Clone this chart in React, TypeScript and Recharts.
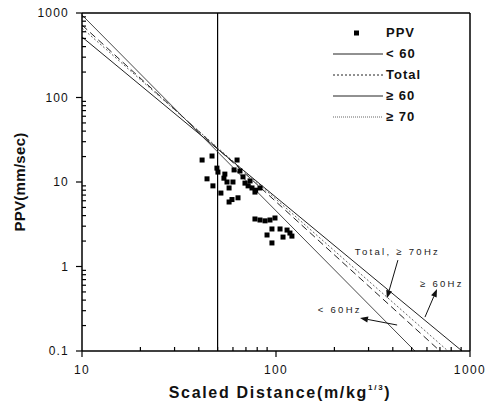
import React from "react";
import {
  ComposedChart,
  Line,
  Scatter,
  XAxis,
  YAxis,
  ReferenceLine,
  ReferenceDot,
  Legend,
  Label,
} from "recharts";

// measured PPV records (scaled distance, ppv)
const ppvPoints = [
  { x: 41.6, y: 18.2 }, { x: 46.8, y: 20.3 }, { x: 49.6, y: 14.6 }, { x: 50.2, y: 13.1 },
  { x: 63.0, y: 18.2 }, { x: 60.8, y: 13.9 }, { x: 65.2, y: 13.5 }, { x: 44.1, y: 10.9 },
  { x: 47.3, y: 9.0 }, { x: 53.9, y: 11.1 }, { x: 55.9, y: 10.0 }, { x: 60.0, y: 10.0 },
  { x: 67.6, y: 11.5 }, { x: 69.2, y: 9.7 }, { x: 57.3, y: 8.5 }, { x: 71.8, y: 9.0 },
  { x: 75.2, y: 8.5 }, { x: 77.9, y: 7.6 }, { x: 82.7, y: 8.5 }, { x: 52.0, y: 7.4 },
  { x: 57.3, y: 5.8 }, { x: 63.7, y: 6.5 }, { x: 59.3, y: 6.2 }, { x: 54.5, y: 12.4 },
  { x: 73.5, y: 10.3 }, { x: 78.5, y: 8.0 },
  { x: 77.9, y: 3.65 }, { x: 82.7, y: 3.55 }, { x: 87.8, y: 3.47 }, { x: 93.1, y: 3.55 },
  { x: 98.8, y: 3.75 }, { x: 95.3, y: 2.78 }, { x: 104.9, y: 2.78 }, { x: 114, y: 2.7 },
  { x: 118, y: 2.49 }, { x: 89.9, y: 2.36 }, { x: 108.7, y: 2.23 }, { x: 120.8, y: 2.29 },
  { x: 95.3, y: 1.9 },
];

// regression lines (end points)
const lineLt60 = [{ x: 10, y: 947 }, { x: 520, y: 0.1 }];
const lineTotal = [{ x: 10, y: 720 }, { x: 700, y: 0.1 }];
const lineGe70 = [{ x: 10, y: 664 }, { x: 770, y: 0.1 }];
const lineGe60 = [{ x: 10, y: 520 }, { x: 910, y: 0.1 }];

const xTicks = [10, 20, 30, 40, 50, 60, 70, 80, 90, 100, 200, 300, 400, 500, 600, 700, 800, 900, 1000];
const yTicks = [
  0.1, 0.2, 0.3, 0.4, 0.5, 0.6, 0.7, 0.8, 0.9,
  1, 2, 3, 4, 5, 6, 7, 8, 9,
  10, 20, 30, 40, 50, 60, 70, 80, 90,
  100, 200, 300, 400, 500, 600, 700, 800, 900, 1000,
];
const majorTicks = [0.1, 1, 10, 100, 1000];

const legendItems = [
  { name: "PPV", kind: "square", dash: "" },
  { name: "< 60", kind: "line", dash: "" },
  { name: "Total", kind: "line", dash: "2 2" },
  { name: "≥ 60", kind: "line", dash: "" },
  { name: "≥ 70", kind: "line", dash: "1 1" },
];

const notes = [
  { x: 255, y: 1.5, text: "Total,  ≥ 70Hz" },
  { x: 552, y: 0.62, text: "≥ 60Hz" },
  { x: 164, y: 0.31, text: "< 60Hz" },
];

const arrows = [
  [{ x: 425, y: 1.19 }, { x: 373, y: 0.42 }],
  [{ x: 586, y: 0.252 }, { x: 676, y: 0.542 }],
  [{ x: 421, y: 0.203 }, { x: 271, y: 0.246 }],
];

const FONT = "'Liberation Sans', Arial, sans-serif";

const XTick = (props: any) => {
  const { x, y, payload } = props;
  const major = majorTicks.includes(payload.value);
  return (
    <g>
      <line x1={x} x2={x} y1={y} y2={major ? y + 6 : y - 4} stroke="#000" strokeWidth={1.2} />
      {major && (
        <text x={x} y={y + 23} textAnchor="middle" fontSize={12} fontFamily={FONT} letterSpacing={1.4} fill="#111">
          {payload.value}
        </text>
      )}
    </g>
  );
};

const YTick = (props: any) => {
  const { x, y, payload } = props;
  const major = majorTicks.includes(payload.value);
  return (
    <g>
      <line x1={major ? x - 6 : x} x2={major ? x : x + 4} y1={y} y2={y} stroke="#000" strokeWidth={1.2} />
      {major && (
        <text x={x - 13} y={y} dy="0.35em" textAnchor="end" fontSize={12} fontFamily={FONT} letterSpacing={1.2} fill="#111">
          {payload.value}
        </text>
      )}
    </g>
  );
};

const SquareDot = (p: any) => (
  <rect x={p.cx - 2.5} y={p.cy - 2.5} width={5} height={5} fill="#000" />
);

const Arrow = (p: any) => {
  const { x1, y1, x2, y2 } = p;
  const a = Math.atan2(y2 - y1, x2 - x1);
  const L = 8;
  const W = 3;
  const bx = x2 - L * Math.cos(a);
  const by = y2 - L * Math.sin(a);
  const pts = `${x2},${y2} ${bx + W * Math.sin(a)},${by - W * Math.cos(a)} ${bx - W * Math.sin(a)},${by + W * Math.cos(a)}`;
  return (
    <g>
      <line x1={x1} y1={y1} x2={bx} y2={by} stroke="#111" strokeWidth={1} />
      <polygon points={pts} fill="#111" />
    </g>
  );
};

const LegendBox = () => (
  <div style={{ fontFamily: FONT, fontWeight: "bold", fontSize: 13, color: "#111" }}>
    {legendItems.map((it) => (
      <div key={it.name} style={{ display: "flex", alignItems: "center", height: 21 }}>
        <svg width={53} height={10}>
          {it.kind === "square" ? (
            <rect x={21} y={2.5} width={5} height={5} fill="#000" />
          ) : (
            <line x1={0} x2={50} y1={5} y2={5} stroke={it.dash === "1 1" ? "#666" : "#222"} strokeWidth={1} strokeDasharray={it.dash || undefined} />
          )}
        </svg>
        <span style={{ letterSpacing: 1 }}>{it.name}</span>
      </div>
    ))}
  </div>
);

export default function App() {
  return (
    <div style={{ position: "absolute", left: 0, top: 0, width: 488, height: 413, background: "#fff" }}>
      <ComposedChart width={488} height={413} margin={{ top: 13, right: 18, left: 22, bottom: 0 }}>
        <XAxis
          type="number"
          dataKey="x"
          scale="log"
          domain={[10, 1000]}
          allowDataOverflow
          ticks={xTicks}
          interval={0}
          tick={<XTick />}
          tickLine={false}
          tickSize={0}
          tickMargin={0}
          height={62}
          axisLine={{ stroke: "#000", strokeWidth: 1.5 }}
        >
          <Label
            content={(p: any) => {
              const vb = p.viewBox;
              return (
                <text x={vb.x + vb.width / 2 + 4} y={vb.y + 47} textAnchor="middle" fontSize={16} fontWeight="bold" fontFamily={FONT} letterSpacing={1.7} fill="#111">
                  Scaled Distance(m/kg
                  <tspan fontSize={8} dy={-8}>1/3</tspan>
                  <tspan dy={8}>)</tspan>
                </text>
              );
            }}
          />
        </XAxis>
        <YAxis
          type="number"
          dataKey="y"
          scale="log"
          domain={[0.1, 1000]}
          allowDataOverflow
          ticks={yTicks}
          interval={0}
          tick={<YTick />}
          tickLine={false}
          tickSize={0}
          tickMargin={0}
          width={60}
          axisLine={{ stroke: "#000", strokeWidth: 1.5 }}
        >
          <Label
            content={(p: any) => {
              const vb = p.viewBox;
              const cx = vb.x - 2;
              const cy = vb.y + vb.height / 2;
              return (
                <text x={cx} y={cy} dy="0.35em" transform={`rotate(-90 ${cx} ${cy})`} textAnchor="middle" fontSize={15} fontWeight="bold" fontFamily={FONT} letterSpacing={0.3} fill="#111">
                  PPV(mm/sec)
                </text>
              );
            }}
          />
        </YAxis>
        <ReferenceLine y={1000} stroke="#000" strokeWidth={1.5} ifOverflow="visible" />
        <ReferenceLine x={1000} stroke="#000" strokeWidth={1.5} ifOverflow="visible" />
        <ReferenceLine x={50} stroke="#000" strokeWidth={1.2} />

        <Line data={lineLt60} dataKey="y" type="linear" dot={false} stroke="#333" strokeWidth={0.9} isAnimationActive={false} legendType="none" />
        <Line data={lineTotal} dataKey="y" type="linear" dot={false} stroke="#222" strokeWidth={1} strokeDasharray="7 4" isAnimationActive={false} legendType="none" />
        <Line data={lineGe70} dataKey="y" type="linear" dot={false} stroke="#555" strokeWidth={0.9} strokeDasharray="2 2" isAnimationActive={false} legendType="none" />
        <Line data={lineGe60} dataKey="y" type="linear" dot={false} stroke="#222" strokeWidth={1} isAnimationActive={false} legendType="none" />
        <Scatter data={ppvPoints} dataKey="y" shape={<SquareDot />} isAnimationActive={false} legendType="none" />

        {arrows.map((seg, i) => (
          <ReferenceLine key={`a${i}`} segment={seg} shape={<Arrow />} ifOverflow="visible" />
        ))}
        {notes.map((n) => (
          <ReferenceDot
            key={n.text}
            x={n.x}
            y={n.y}
            r={0}
            ifOverflow="visible"
            shape={(p: any) => (
              <text x={p.cx} y={p.cy} dy="0.35em" fontSize={9.5} fontFamily={FONT} letterSpacing={2.3} fill="#222">
                {n.text}
              </text>
            )}
          />
        ))}
        <Legend
          layout="vertical"
          align="center"
          verticalAlign="middle"
          wrapperStyle={{ left: 333, top: 22, width: 120 }}
          content={<LegendBox />}
        />
      </ComposedChart>
    </div>
  );
}
